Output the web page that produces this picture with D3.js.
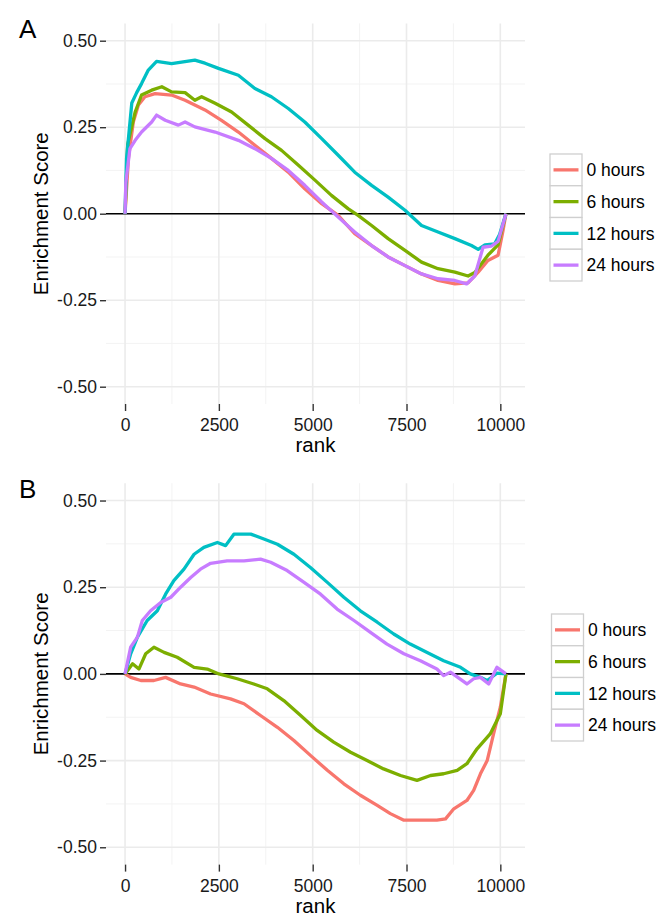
<!DOCTYPE html>
<html lang="en">
<head>
<meta charset="UTF-8">
<title>Enrichment Score</title>
<script src="https://d3js.org/d3.v7.min.js"></script>
<style>
  body { margin: 0; background: white; }
  svg { font-family: "Liberation Sans", Arial, Helvetica, sans-serif; }
  .tick text { fill: #1a1a1a; font-size: 17.5px; }
  .tick line { stroke: #333; stroke-width: 1.4; }
</style>
</head>
<body>
<svg width="658" height="916"></svg>
<script>
const rankTicks = [0, 2500, 5000, 7500, 10000];
const rankMinor = [1250, 3750, 6250, 8750];
const esTicks = [-0.5, -0.25, 0, 0.25, 0.5];
const esMinor = [-0.375, -0.125, 0.125, 0.375];
const groups = ["0 hours", "6 hours", "12 hours", "24 hours"];
const colors = ["#F8766D", "#7CAE00", "#00BFC4", "#C77CFF"];

// panel A  [rank, enrichment score]
const a0 = [[0,0],[90,0.16],[220,0.265],[355,0.314],[530,0.338],[800,0.347],[1240,0.343],[1600,0.328],
  [2130,0.30],[2570,0.27],[3020,0.236],[3460,0.198],[3900,0.16],[4350,0.12],[4790,0.072],[5240,0.029],
  [5680,-0.005],[6120,-0.058],[6570,-0.092],[7010,-0.125],[7460,-0.15],[7900,-0.174],[8340,-0.193],
  [8790,-0.203],[9140,-0.20],[9410,-0.169],[9670,-0.135],[9940,-0.12],[10070,-0.05],[10150,0]];
const a6 = [[0,0],[70,0.2],[270,0.294],[440,0.343],[710,0.357],[980,0.367],[1240,0.352],[1600,0.35],
  [1860,0.328],[2040,0.338],[2400,0.319],[2840,0.294],[3280,0.256],[3730,0.217],[4170,0.183],[4620,0.14],
  [5060,0.097],[5500,0.053],[5950,0.014],[6210,-0.005],[6570,-0.034],[7010,-0.072],[7460,-0.106],
  [7900,-0.14],[8340,-0.159],[8790,-0.169],[9140,-0.18],[9320,-0.17],[9670,-0.12],[9940,-0.09],[10150,0]];
const a12 = [[0,0],[40,0.16],[180,0.32],[310,0.35],[440,0.376],[620,0.415],[840,0.44],[1240,0.434],
  [1860,0.444],[2130,0.435],[2490,0.42],[3020,0.40],[3460,0.362],[3900,0.338],[4350,0.304],[4790,0.265],
  [5240,0.217],[5680,0.169],[6120,0.12],[6570,0.082],[7010,0.048],[7460,0.01],[7900,-0.034],[8340,-0.053],
  [8790,-0.072],[9230,-0.092],[9410,-0.103],[9590,-0.09],[9850,-0.087],[9980,-0.06],[10150,0]];
const a24 = [[0,0],[20,0.09],[130,0.188],[270,0.212],[440,0.236],[710,0.265],[840,0.285],[1070,0.27],
  [1420,0.256],[1600,0.265],[1860,0.251],[2400,0.236],[3020,0.212],[3460,0.188],[3900,0.16],[4350,0.125],
  [4790,0.082],[5240,0.034],[5680,-0.01],[6120,-0.053],[6570,-0.092],[7010,-0.125],[7460,-0.15],
  [7900,-0.174],[8340,-0.188],[8790,-0.193],[9100,-0.203],[9320,-0.18],[9540,-0.097],[9760,-0.094],
  [9940,-0.08],[10150,0]];

// panel B
const b0 = [[0,0],[150,-0.01],[420,-0.019],[770,-0.019],[1080,-0.01],[1480,-0.029],[1840,-0.038],
  [2280,-0.058],[2810,-0.072],[3170,-0.086],[3610,-0.12],[4060,-0.154],[4500,-0.192],[4940,-0.235],
  [5390,-0.278],[5830,-0.317],[6270,-0.35],[6720,-0.379],[7070,-0.403],[7430,-0.422],[7870,-0.422],
  [8310,-0.422],[8540,-0.418],[8760,-0.389],[9110,-0.365],[9290,-0.336],[9470,-0.288],[9650,-0.25],
  [9820,-0.173],[10000,-0.096],[10150,0]];
const b6 = [[0,0],[200,0.029],[370,0.014],[550,0.058],[770,0.077],[1040,0.062],[1390,0.048],[1840,0.019],
  [2190,0.014],[2500,0],[2990,-0.014],[3430,-0.029],[3790,-0.043],[4230,-0.077],[4680,-0.12],[5120,-0.163],
  [5560,-0.197],[6010,-0.226],[6450,-0.25],[6890,-0.274],[7340,-0.293],[7780,-0.307],[8140,-0.293],
  [8490,-0.288],[8850,-0.278],[9110,-0.259],[9380,-0.216],[9730,-0.173],[10000,-0.115],[10150,0]];
const b12 = [[0,0],[150,0.058],[330,0.106],[590,0.154],[860,0.182],[1080,0.23],[1300,0.269],[1570,0.302],
  [1840,0.345],[2100,0.365],[2460,0.379],[2680,0.37],[2900,0.403],[3350,0.403],[3700,0.389],[4060,0.374],
  [4500,0.345],[4940,0.307],[5390,0.264],[5830,0.221],[6270,0.182],[6720,0.149],[7160,0.115],[7600,0.086],
  [8050,0.062],[8490,0.038],[8940,0.019],[9200,0],[9470,-0.01],[9650,-0.019],[9910,0.002],[10150,0]];
const b24 = [[0,0],[150,0.077],[330,0.106],[460,0.154],[680,0.182],[950,0.206],[1220,0.221],[1480,0.25],
  [1750,0.278],[2010,0.302],[2280,0.319],[2720,0.326],[3170,0.326],[3610,0.331],[3880,0.322],[4320,0.298],
  [4770,0.264],[5210,0.23],[5650,0.187],[6100,0.154],[6540,0.12],[6980,0.086],[7430,0.058],[7870,0.038],
  [8310,0.014],[8490,-0.005],[8670,0.005],[9110,-0.029],[9290,-0.014],[9470,-0.01],[9690,-0.029],
  [9910,0.019],[10150,0]];

const panels = [
  { label: "A", top: 23.4, bottom: 404, series: [a0, a6, a12, a24], legendTop: 154, legendLeft: 550 },
  { label: "B", top: 483.2, bottom: 864.6, series: [b0, b6, b12, b24], legendTop: 614, legendLeft: 551.5 }
];

const left = 106, right = 525;
const svg = d3.select("svg");

panels.forEach(p => {
  const x = d3.scaleLinear().domain([-507.5, 10657.5]).range([left, right]);
  const y = d3.scaleLinear().domain([-0.55, 0.55]).range([p.bottom, p.top]);
  const g = svg.append("g");

  // grid
  g.selectAll("line.vminor").data(rankMinor).enter().append("line")
    .attr("x1", d => x(d)).attr("x2", d => x(d)).attr("y1", p.top).attr("y2", p.bottom)
    .attr("stroke", "#f2f2f2").attr("stroke-width", 0.9);
  g.selectAll("line.hminor").data(esMinor).enter().append("line")
    .attr("y1", d => y(d)).attr("y2", d => y(d)).attr("x1", left).attr("x2", right)
    .attr("stroke", "#f2f2f2").attr("stroke-width", 0.9);
  g.selectAll("line.vmajor").data(rankTicks).enter().append("line")
    .attr("x1", d => x(d)).attr("x2", d => x(d)).attr("y1", p.top).attr("y2", p.bottom)
    .attr("stroke", "#ebebeb").attr("stroke-width", 1.6);
  g.selectAll("line.hmajor").data(esTicks).enter().append("line")
    .attr("y1", d => y(d)).attr("y2", d => y(d)).attr("x1", left).attr("x2", right)
    .attr("stroke", "#ebebeb").attr("stroke-width", 1.6);

  // zero line
  g.append("line")
    .attr("x1", left).attr("x2", right).attr("y1", y(0)).attr("y2", y(0))
    .attr("stroke", "black").attr("stroke-width", 1.6);

  // curves
  const line = d3.line().x(d => x(d[0])).y(d => y(d[1]));
  p.series.forEach((s, i) => {
    g.append("path")
      .datum(s)
      .attr("d", line)
      .attr("fill", "none")
      .attr("stroke", colors[i])
      .attr("stroke-width", 3.3)
      .attr("stroke-linejoin", "round");
  });

  // axes
  g.append("g")
    .attr("transform", `translate(0,${p.bottom})`)
    .call(d3.axisBottom(x).tickValues(rankTicks).tickFormat(d => String(d)).tickSize(7).tickPadding(7.5))
    .call(a => a.select(".domain").remove());
  g.append("g")
    .attr("transform", `translate(${left},0)`)
    .call(d3.axisLeft(y).tickValues(esTicks).tickFormat(d => d.toFixed(2)).tickSize(6).tickPadding(3))
    .call(a => a.select(".domain").remove());

  // titles
  g.append("text")
    .attr("x", (left + right) / 2).attr("y", p.bottom + 48)
    .attr("text-anchor", "middle").attr("font-size", 20.5).attr("fill", "black")
    .text("rank");
  g.append("text")
    .attr("transform", `translate(47.5,${(p.top + p.bottom) / 2}) rotate(-90)`)
    .attr("text-anchor", "middle").attr("font-size", 20.5).attr("fill", "black")
    .text("Enrichment Score");
  g.append("text")
    .attr("x", 19).attr("y", p.top + 14.5)
    .attr("font-size", 26).attr("fill", "black")
    .text(p.label);

  // legend
  const keyH = 31.75, keyW = 32;
  const lg = g.append("g").attr("transform", `translate(${p.legendLeft},${p.legendTop})`);
  groups.forEach((name, i) => {
    const row = lg.append("g").attr("transform", `translate(0,${i * keyH})`);
    row.append("rect")
      .attr("x", 0).attr("y", 0).attr("width", keyW).attr("height", keyH)
      .attr("fill", "white").attr("stroke", "#cfcfcf").attr("stroke-width", 1.3);
    row.append("line")
      .attr("x1", 3.5).attr("x2", keyW - 3.5).attr("y1", keyH / 2).attr("y2", keyH / 2)
      .attr("stroke", colors[i]).attr("stroke-width", 3.3);
    row.append("text")
      .attr("x", keyW + 4.5).attr("y", keyH / 2).attr("dy", "0.36em")
      .attr("font-size", 17.5).attr("fill", "black")
      .text(name);
  });
});
</script>
</body>
</html>
